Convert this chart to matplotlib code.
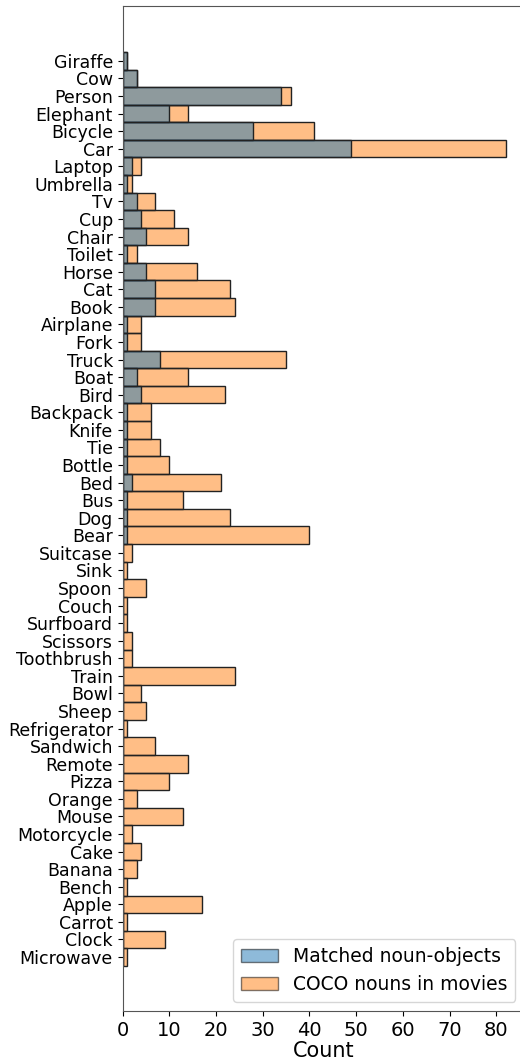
import numpy as np
import matplotlib
matplotlib.use("Agg")
import matplotlib.pyplot as plt
from matplotlib.patches import Patch

nouns = ["Giraffe", "Cow", "Person", "Elephant", "Bicycle", "Car", "Laptop",
         "Umbrella", "Tv", "Cup", "Chair", "Toilet", "Horse", "Cat", "Book",
         "Airplane", "Fork", "Truck", "Boat", "Bird", "Backpack", "Knife", "Tie",
         "Bottle", "Bed", "Bus", "Dog", "Bear", "Suitcase", "Sink", "Spoon",
         "Couch", "Surfboard", "Scissors", "Toothbrush", "Train", "Bowl", "Sheep",
         "Refrigerator", "Sandwich", "Remote", "Pizza", "Orange", "Mouse",
         "Motorcycle", "Cake", "Banana", "Bench", "Apple", "Carrot", "Clock",
         "Microwave"]

# noun-objects matched in frames
matched = [1, 3, 34, 10, 28, 49, 2, 1, 3, 4, 5, 1, 5, 7, 7, 1, 1, 8, 3, 4,
           1, 1, 1, 1, 2, 1, 1, 1, 0, 0, 0, 0, 0, 0, 0, 0, 0, 0, 0, 0, 0, 0,
           0, 0, 0, 0, 0, 0, 0, 0, 0, 0]

# all coco nouns found in movie descriptions
coco = [1, 3, 36, 14, 41, 82, 4, 2, 7, 11, 14, 3, 16, 23, 24, 4, 4, 35, 14, 22,
        6, 6, 8, 10, 21, 13, 23, 40, 2, 1, 5, 1, 1, 2, 2, 24, 4, 5, 1, 7, 14,
        10, 3, 13, 2, 4, 3, 1, 17, 1, 9, 1]

fig = plt.figure(figsize=(5.2, 10.61), dpi=100)
ax = fig.add_axes([0.236, 0.047, 0.773, 0.9475])

y = np.arange(len(nouns))
blue = "#1f77b4"
orange = "#ff7f0e"

# layered bars: coco totals underneath, matched on top
ax.barh(y, coco, height=1.0, color=orange, alpha=0.5, edgecolor="none")
ax.barh(y, coco, height=1.0, color="none", edgecolor="#222222", linewidth=1)
ax.barh(y, matched, height=1.0, color=blue, alpha=0.5, edgecolor="none")
ax.barh(y, matched, height=1.0, color="none", edgecolor="#222222", linewidth=1)

ax.set_yticks(y)
ax.set_yticklabels(nouns, fontsize=12.5)
ax.set_ylim(len(nouns) - 1 + 3.08, -3.13)
ax.set_xlim(0, max(coco) * 1.05)
ax.set_xticks(np.arange(0, 81, 10))
ax.tick_params(axis="x", labelsize=14)
ax.set_xlabel("Count", fontsize=15, labelpad=1)

for s in ax.spines.values():
    s.set_color("#555555")

handles = [Patch(facecolor=blue, alpha=0.5, edgecolor="black"),
           Patch(facecolor=orange, alpha=0.5, edgecolor="black")]
ax.legend(handles, ["Matched noun-objects", "COCO nouns in movies"],
          loc="lower right", fontsize=13.5, handlelength=2, borderaxespad=0.5)

fig.savefig("out.png", dpi=100)
